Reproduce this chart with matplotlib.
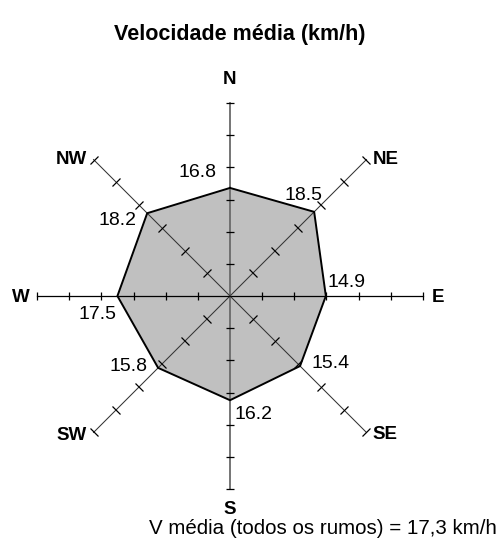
import matplotlib
matplotlib.use('Agg')
import matplotlib.pyplot as plt
import numpy as np
from matplotlib.markers import MarkerStyle
from matplotlib.transforms import Affine2D

# ---- data ----
directions = ['N', 'NE', 'E', 'SE', 'S', 'SW', 'W', 'NW']
speeds = [16.8, 18.5, 14.9, 15.4, 16.2, 15.8, 17.5, 18.2]
value_labels = ['16.8', '18.5', '14.9', '15.4', '16.2', '15.8', '17.5', '18.2']
r_ticks = [5, 10, 15, 20, 25, 30]
r_max = 30
title = 'Velocidade média (km/h)'
footer = 'V média (todos os rumos) = 17,3 km/h'

# ---- layout (pixel offsets) ----
value_offsets = [(-32.5, 11), (-11, 12), (21, 9), (31, -2), (24, -19), (-30, -3), (-20, -23), (-30, -12)]
dir_offsets = [(0, 19, 'center'), (6.5, -4.5, 'left'), (9, -6, 'left'), (6.5, -6.5, 'left'),
               (0, -25, 'center'), (-6.5, -7.5, 'right'), (-7, -6, 'right'), (-6.5, -4.5, 'right')]

plt.rcParams['font.family'] = ['Liberation Sans', 'DejaVu Sans']
W, H = 501, 550
fig = plt.figure(figsize=(W / 100, H / 100), dpi=100)
cx, cy, R = 230, 296, 193
ax = fig.add_axes([(cx - R) / W, (H - cy - R) / H, 2 * R / W, 2 * R / H], projection='polar')
ax.set_theta_zero_location('N')
ax.set_theta_direction(-1)
ax.set_ylim(0, r_max)
ax.axis('off')

angles = np.deg2rad(np.arange(len(directions)) * 45.0)
closed_a = np.append(angles, angles[0])
closed_v = speeds + [speeds[0]]
ax.fill(closed_a, closed_v, facecolor='#c0c0c0', edgecolor='none', zorder=1)

for i, a in enumerate(angles):
    if i % 4 == 0:
        color, lw, ms = '#6a6a6a', 1.3, 6
    elif i % 4 == 2:
        color, lw, ms = 'black', 0.9, 6
    else:
        color, lw, ms = '#333333', 0.75, 8
    ax.plot([a, a], [0, r_max], color=color, lw=lw, zorder=2, clip_on=False)
    screen_angle = 90 - np.degrees(a)
    m = MarkerStyle('_', transform=Affine2D().rotate_deg(screen_angle + 90))
    ax.plot([a] * len(r_ticks), r_ticks, ls='none', marker=m, ms=ms,
            mec='black', mew=0.9, clip_on=False, zorder=3)

ax.plot(closed_a, closed_v, color='black', lw=1.4, zorder=4, clip_on=False)

for a, v, lab, (dx, dy) in zip(angles, speeds, value_labels, value_offsets):
    ax.annotate(lab, xy=(a, v), xytext=(dx, dy), textcoords='offset pixels',
                ha='center', va='baseline', fontsize=14, color='black', zorder=5)

for a, d, (dx, dy, ha) in zip(angles, directions, dir_offsets):
    ax.annotate(d, xy=(a, r_max), xytext=(dx, dy), textcoords='offset pixels',
                ha=ha, va='baseline', fontsize=13.5, fontweight='bold', color='black',
                annotation_clip=False)

fig.text(240 / W, 1 - 40 / H, title, ha='center', va='baseline', fontsize=15.5, fontweight='bold')
fig.text(497 / W, 1 - 534 / H, footer, ha='right', va='baseline', fontsize=14.8)

fig.savefig('out.png', dpi=100)
